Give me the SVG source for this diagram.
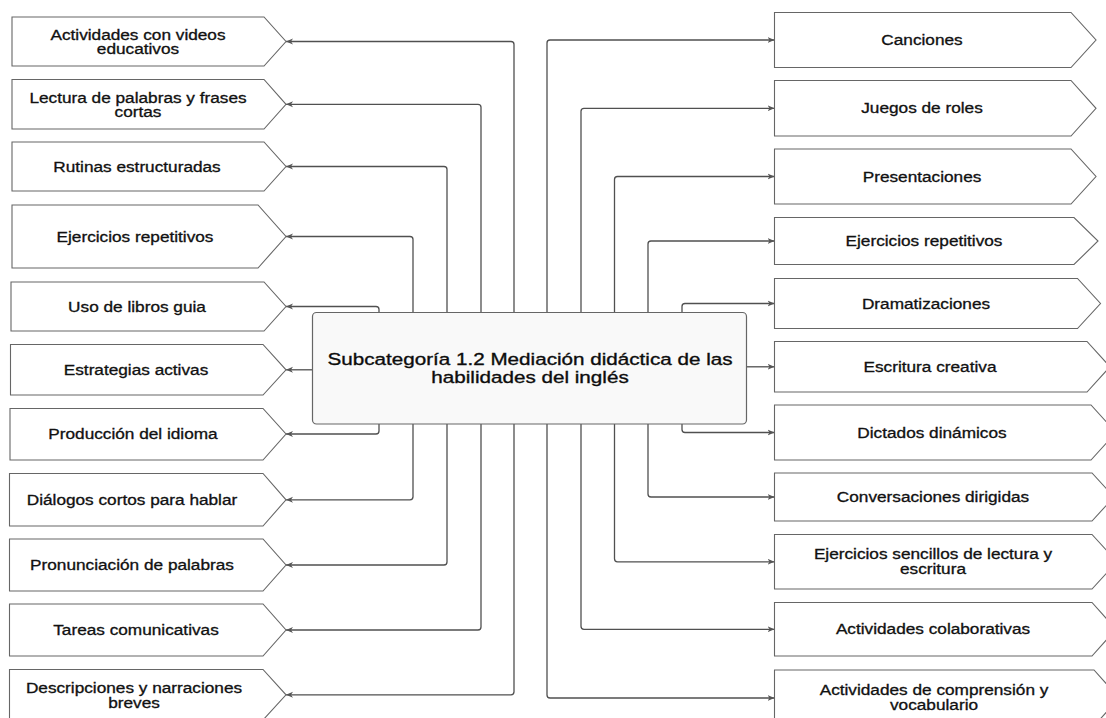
<svg xmlns="http://www.w3.org/2000/svg" width="1106" height="718" viewBox="0 0 1106 718">
<defs>
<marker id="arr" markerUnits="userSpaceOnUse" markerWidth="8" markerHeight="8" refX="7" refY="3.5" orient="auto">
<path d="M0,0.5 L7,3.5 L0,6.5 L2,3.5 z" fill="#555"/>
</marker>
<style>
.node{fill:#fff;stroke:#666;stroke-width:1.1}
.center{fill:#f9f9f9;stroke:#666;stroke-width:1.2}
.lbl{font-family:"Liberation Sans",Arial,sans-serif;font-size:14px;fill:#111;stroke:#111;stroke-width:0.3;text-anchor:middle}
.title{font-family:"Liberation Sans",Arial,sans-serif;font-size:17px;fill:#0d0d0d;stroke:#0d0d0d;stroke-width:0.35;text-anchor:middle}
.conn path{fill:none;stroke:#505050;stroke-width:1.3;marker-end:url(#arr)}
</style>
</defs>
<rect width="1106" height="718" fill="#fff"/>

<g id="connectors" class="conn">
<path d="M514,312 L514,44.5 Q514,41.5 511,41.5 L286,41.5"/>
<path d="M481,312 L481,107.3 Q481,104.3 478,104.3 L286,104.3"/>
<path d="M447,312 L447,169.5 Q447,166.5 444,166.5 L286,166.5"/>
<path d="M413,312 L413,239.5 Q413,236.5 410,236.5 L286,236.5"/>
<path d="M379,312 L379,309.5 Q379,306.5 376,306.5 L286,306.5"/>
<path d="M312,369.8 L286,369.8"/>
<path d="M379,424 L379,431 Q379,434 376,434 L286,434"/>
<path d="M413,424 L413,496.8 Q413,499.8 410,499.8 L286,499.8"/>
<path d="M447,424 L447,562 Q447,565 444,565 L286,565"/>
<path d="M481,424 L481,627 Q481,630 478,630 L286,630"/>
<path d="M514,424 L514,691.8 Q514,694.8 511,694.8 L286,694.8"/>
<path d="M547,312 L547,43 Q547,40 550,40 L774.5,40"/>
<path d="M581,312 L581,111.3 Q581,108.3 584,108.3 L774.5,108.3"/>
<path d="M614.5,312 L614.5,179.5 Q614.5,176.5 617.5,176.5 L774.5,176.5"/>
<path d="M648,312 L648,244 Q648,241 651,241 L774.5,241"/>
<path d="M682,312 L682,306.5 Q682,303.5 685,303.5 L774.5,303.5"/>
<path d="M747,366.8 L774.5,366.8"/>
<path d="M682,424 L682,429.5 Q682,432.5 685,432.5 L774.5,432.5"/>
<path d="M648,424 L648,494 Q648,497 651,497 L774.5,497"/>
<path d="M614.5,424 L614.5,558.8 Q614.5,561.8 617.5,561.8 L774.5,561.8"/>
<path d="M581,424 L581,626.3 Q581,629.3 584,629.3 L774.5,629.3"/>
<path d="M547,424 L547,695 Q547,698 550,698 L774.5,698"/>
</g>

<g id="center-node">
<rect class="center" x="312.5" y="312.5" width="434" height="111.5" rx="4"/>
<g transform="translate(530,0) scale(1.215,1)">
<text class="title" x="0" y="365.5">Subcategoría 1.2 Mediación didáctica de las</text>
<text class="title" x="0" y="383.2">habilidades del inglés</text>
</g>
</g>

<g id="L1"><path class="node" d="M12,17 L264,17 L286,41.5 L264,66 L12,66 Z"/>
<g transform="translate(138,41.5) scale(1.23,1)"><text class="lbl" y="-1.5">Actividades con videos</text><text class="lbl" y="13">educativos</text></g></g>
<g id="L2"><path class="node" d="M12,79.5 L264,79.5 L286,104.3 L264,129 L12,129 Z"/>
<g transform="translate(138,104.3) scale(1.23,1)"><text class="lbl" y="-1.5">Lectura de palabras y frases</text><text class="lbl" y="13">cortas</text></g></g>
<g id="L3"><path class="node" d="M12,142 L264,142 L286,166.5 L264,191 L12,191 Z"/>
<g transform="translate(137,166.5) scale(1.23,1)"><text class="lbl" y="5">Rutinas estructuradas</text></g></g>
<g id="L4"><path class="node" d="M12,205 L258,205 L286,236.5 L258,268 L12,268 Z"/>
<g transform="translate(135,236.5) scale(1.23,1)"><text class="lbl" y="5">Ejercicios repetitivos</text></g></g>
<g id="L5"><path class="node" d="M11,282 L264,282 L286,306.5 L264,331 L11,331 Z"/>
<g transform="translate(137,306.5) scale(1.23,1)"><text class="lbl" y="5">Uso de libros guia</text></g></g>
<g id="L6"><path class="node" d="M10.5,344.5 L263,344.5 L286,369.8 L263,395 L10.5,395 Z"/>
<g transform="translate(136,369.8) scale(1.23,1)"><text class="lbl" y="5">Estrategias activas</text></g></g>
<g id="L7"><path class="node" d="M10,408.5 L263,408.5 L286,434 L263,460 L10,460 Z"/>
<g transform="translate(133,434) scale(1.23,1)"><text class="lbl" y="5">Producción del idioma</text></g></g>
<g id="L8"><path class="node" d="M9.5,473.5 L263,473.5 L286,499.8 L263,526 L9.5,526 Z"/>
<g transform="translate(132,499.8) scale(1.23,1)"><text class="lbl" y="5">Diálogos cortos para hablar</text></g></g>
<g id="L9"><path class="node" d="M9.5,539 L263,539 L286,565 L263,591 L9.5,591 Z"/>
<g transform="translate(132,565) scale(1.23,1)"><text class="lbl" y="5">Pronunciación de palabras</text></g></g>
<g id="L10"><path class="node" d="M9.5,604 L263,604 L286,630 L263,656 L9.5,656 Z"/>
<g transform="translate(136,630) scale(1.23,1)"><text class="lbl" y="5">Tareas comunicativas</text></g></g>
<g id="L11"><path class="node" d="M9.5,669.5 L263,669.5 L286,694.8 L263,720 L9.5,720 Z"/>
<g transform="translate(134,694.8) scale(1.23,1)"><text class="lbl" y="-1.5">Descripciones y narraciones</text><text class="lbl" y="13">breves</text></g></g>

<g id="R1"><path class="node" d="M774.5,12.5 L1071,12.5 L1096,40 L1071,67.5 L774.5,67.5 Z"/>
<g transform="translate(922,40) scale(1.23,1)"><text class="lbl" y="5">Canciones</text></g></g>
<g id="R2"><path class="node" d="M774.5,80.5 L1071,80.5 L1096,108.3 L1071,136 L774.5,136 Z"/>
<g transform="translate(922,108.3) scale(1.23,1)"><text class="lbl" y="5">Juegos de roles</text></g></g>
<g id="R3"><path class="node" d="M774.5,149 L1071,149 L1096,176.5 L1071,204 L774.5,204 Z"/>
<g transform="translate(922,176.5) scale(1.23,1)"><text class="lbl" y="5">Presentaciones</text></g></g>
<g id="R4"><path class="node" d="M774.5,217.5 L1074,217.5 L1098,241 L1074,264.5 L774.5,264.5 Z"/>
<g transform="translate(924,241) scale(1.23,1)"><text class="lbl" y="5">Ejercicios repetitivos</text></g></g>
<g id="R5"><path class="node" d="M774.5,278.5 L1077.5,278.5 L1100.5,303.5 L1077.5,328.5 L774.5,328.5 Z"/>
<g transform="translate(926,303.5) scale(1.23,1)"><text class="lbl" y="5">Dramatizaciones</text></g></g>
<g id="R6"><path class="node" d="M774.5,341.5 L1087,341.5 L1110,366.8 L1087,392 L774.5,392 Z"/>
<g transform="translate(930,366.8) scale(1.23,1)"><text class="lbl" y="5">Escritura creativa</text></g></g>
<g id="R7"><path class="node" d="M774.5,405 L1091,405 L1116,432.5 L1091,460 L774.5,460 Z"/>
<g transform="translate(932,432.5) scale(1.23,1)"><text class="lbl" y="5">Dictados dinámicos</text></g></g>
<g id="R8"><path class="node" d="M774.5,473 L1092,473 L1114,497 L1092,521 L774.5,521 Z"/>
<g transform="translate(933,497) scale(1.23,1)"><text class="lbl" y="5">Conversaciones dirigidas</text></g></g>
<g id="R9"><path class="node" d="M774.5,534.5 L1092,534.5 L1117,561.8 L1092,589 L774.5,589 Z"/>
<g transform="translate(933,561.8) scale(1.23,1)"><text class="lbl" y="-3">Ejercicios sencillos de lectura y</text><text class="lbl" y="12">escritura</text></g></g>
<g id="R10"><path class="node" d="M774.5,602.5 L1092,602.5 L1116,629.3 L1092,656 L774.5,656 Z"/>
<g transform="translate(933,629.3) scale(1.23,1)"><text class="lbl" y="5">Actividades colaborativas</text></g></g>
<g id="R11"><path class="node" d="M774.5,670 L1094,670 L1119,698 L1094,726 L774.5,726 Z"/>
<g transform="translate(934,698) scale(1.23,1)"><text class="lbl" y="-3">Actividades de comprensión y</text><text class="lbl" y="12">vocabulario</text></g></g>
</svg>
